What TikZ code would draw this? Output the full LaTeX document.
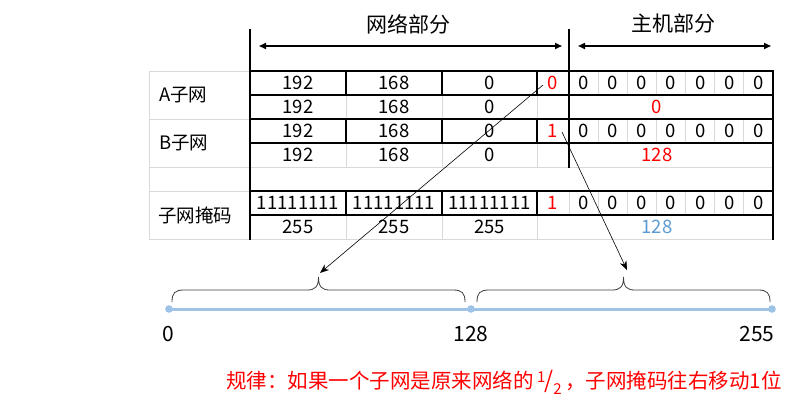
\documentclass[tikz,border=0pt]{standalone}
\usepackage{fontspec}
\setmainfont{Noto Sans CJK SC}
\usetikzlibrary{arrows.meta}
\definecolor{gridgray}{HTML}{D9D9D9}
\definecolor{maskblue}{HTML}{5B9BD5}
\definecolor{lineblue}{HTML}{9DC3E6}
\definecolor{bracegray}{HTML}{404040}
\begin{document}
\begin{tikzpicture}[x=1pt,y=-1pt,
  tline/.style={line width=2.6pt,line cap=rect},
  gline/.style={line width=0.8pt,gridgray},
  num/.style={inner sep=0pt,font=\fontsize{18.5}{18.5}\selectfont},
  lbl/.style={inner sep=0pt,anchor=west,font=\fontsize{18.5}{18.5}\selectfont},
  hdr/.style={inner sep=0pt,font=\fontsize{21}{21}\selectfont},
  ptr/.style={line width=0.6pt,-{Stealth[length=9pt,width=7pt]}},
  spanarrow/.style={line width=1.6pt,{Triangle[length=7pt,width=6pt]}-{Triangle[length=7pt,width=6pt]}},
  brc/.style={line width=0.8pt,bracegray},
  axlbl/.style={inner sep=0pt,font=\fontsize{21}{21}\selectfont},
  dotmark/.style={fill=lineblue,draw=none}]
\useasboundingbox (0,0) rectangle (800,415);
\fill[white] (0,0) rectangle (800,415);

% ---------- thin grid lines ----------
\draw[gline] (149,71) rectangle (250,239);
\foreach \y in {119,167,191} \draw[gline] (149,\y) -- (250,\y);
\draw[gline] (250,167) -- (773,167);
\draw[gline] (250,239) -- (773,239);
\foreach \x in {346,442,537} {
  \draw[gline] (\x,95) -- (\x,119);
  \draw[gline] (\x,143) -- (\x,167);
  \draw[gline] (\x,215) -- (\x,239);
}
\foreach \k in {1,...,6} {
  \pgfmathsetmacro\xx{569+29.14*\k}
  \draw[gline] (\xx,71) -- (\xx,95);
  \draw[gline] (\xx,119) -- (\xx,143);
  \draw[gline] (\xx,191) -- (\xx,215);
}
\draw[gline] (569,191) -- (569,215);

% ---------- thick lines ----------
\draw[tline] (250,30) -- (250,239);
\draw[tline] (569,30) -- (569,167);
\draw[tline] (773,71) -- (773,239);
\foreach \y in {71,95,119,143,191,215} \draw[tline] (250,\y) -- (773,\y);
\foreach \x in {346,442,537} {
  \draw[tline] (\x,71) -- (\x,95);
  \draw[tline] (\x,119) -- (\x,143);
  \draw[tline] (\x,191) -- (\x,215);
}

% ---------- headers ----------
\node[hdr] (hnet) at (408,24) {网络部分};
\node[hdr] (hhost) at (673,24) {主机部分};
\coordinate (nl) at (259,46);
\coordinate (nr) at (562,46);
\coordinate (hl) at (578,46);
\coordinate (hr) at (771,46);
\draw[spanarrow] (nl) -- (nr);
\draw[spanarrow] (hl) -- (hr);

% ---------- row labels ----------
\node[lbl] (la) at (159,95) {A子网};
\node[lbl] (lb) at (159,143) {B子网};
\node[lbl] (lm) at (158,215) {子网掩码};

% ---------- table contents ----------
% row 1
\node[num] (r1a) at (298,83) {192};
\node[num] (r1b) at (394,83) {168};
\node[num] (r1c) at (489.5,83) {0};
\node[num,red] (r1d) at (553,83) {0};
\foreach \k in {0,...,6} \node[num] (r1h\k) at ({583.6+29.14*\k},83) {0};
% row 2
\node[num] (r2a) at (298,107) {192};
\node[num] (r2b) at (394,107) {168};
\node[num] (r2c) at (489.5,107) {0};
\node[num,red] (r2h) at (657,107) {0};
% row 3
\node[num] (r3a) at (298,131) {192};
\node[num] (r3b) at (394,131) {168};
\node[num] (r3c) at (489.5,131) {0};
\node[num,red] (r3d) at (553,131) {1};
\foreach \k in {0,...,6} \node[num] (r3h\k) at ({583.6+29.14*\k},131) {0};
% row 4
\node[num] (r4a) at (298,155) {192};
\node[num] (r4b) at (394,155) {168};
\node[num] (r4c) at (489.5,155) {0};
\node[num,red] (r4h) at (657,155) {128};
% row 6
\node[num] (r6a) at (298,203) {11111111};
\node[num] (r6b) at (394,203) {11111111};
\node[num] (r6c) at (489.5,203) {11111111};
\node[num,red] (r6d) at (553,203) {1};
\foreach \k in {0,...,6} \node[num] (r6h\k) at ({583.6+29.14*\k},203) {0};
% row 7
\node[num] (r7a) at (298,227) {255};
\node[num] (r7b) at (394,227) {255};
\node[num] (r7c) at (489.5,227) {255};
\node[num,maskblue] (r7h) at (657,227) {128};

% ---------- number line ----------
\coordinate (p0) at (169,309);
\coordinate (p128) at (471,309);
\coordinate (p255) at (772,309);
\draw[lineblue,line width=3pt] (p0) -- (p255);
\foreach \p in {p0,p128,p255} \fill[dotmark] (\p) circle (3.8);
\node[axlbl] (t0) at (168,334) {0};
\node[axlbl] (t128) at (471,334) {128};
\node[axlbl] (t255) at (757,334) {255};

% ---------- braces ----------
\coordinate (b1tip) at (318.5,277);
\coordinate (b2tip) at (623.5,277);
\draw[brc] (172,302) .. controls (172,293) and (175,290) .. (184,290)
  -- (307,290) .. controls (315,290) and (318.5,287) .. (b1tip)
  .. controls (318.5,287) and (322,290) .. (330,290)
  -- (453,290) .. controls (462,290) and (465,293) .. (465,302);
\draw[brc] (477,302) .. controls (477,293) and (480,290) .. (489,290)
  -- (612,290) .. controls (620,290) and (623.5,287) .. (b2tip)
  .. controls (623.5,287) and (627,290) .. (635,290)
  -- (758,290) .. controls (767,290) and (770,293) .. (770,302);

% ---------- pointers ----------
\coordinate (s1) at (543,85);
\coordinate (e1) at (320,273);
\coordinate (s2) at (562,132);
\coordinate (e2) at (627,270);
\draw[ptr] (s1) -- (e1);
\draw[ptr] (s2) -- (e2);

% ---------- rule text ----------
\node[inner sep=0pt,anchor=west,red,font=\fontsize{20.5}{20.5}\selectfont] (rule) at (226,382)
  {规律：如果一个子网是原来网络的\,\raisebox{6pt}{\fontsize{15}{15}\selectfont 1}\kern-0.5pt{\fontsize{23}{23}\selectfont /}\kern-0.5pt\raisebox{-6pt}{\fontsize{15}{15}\selectfont 2}\,，子网掩码往右移动1位};
\end{tikzpicture}
\end{document}
